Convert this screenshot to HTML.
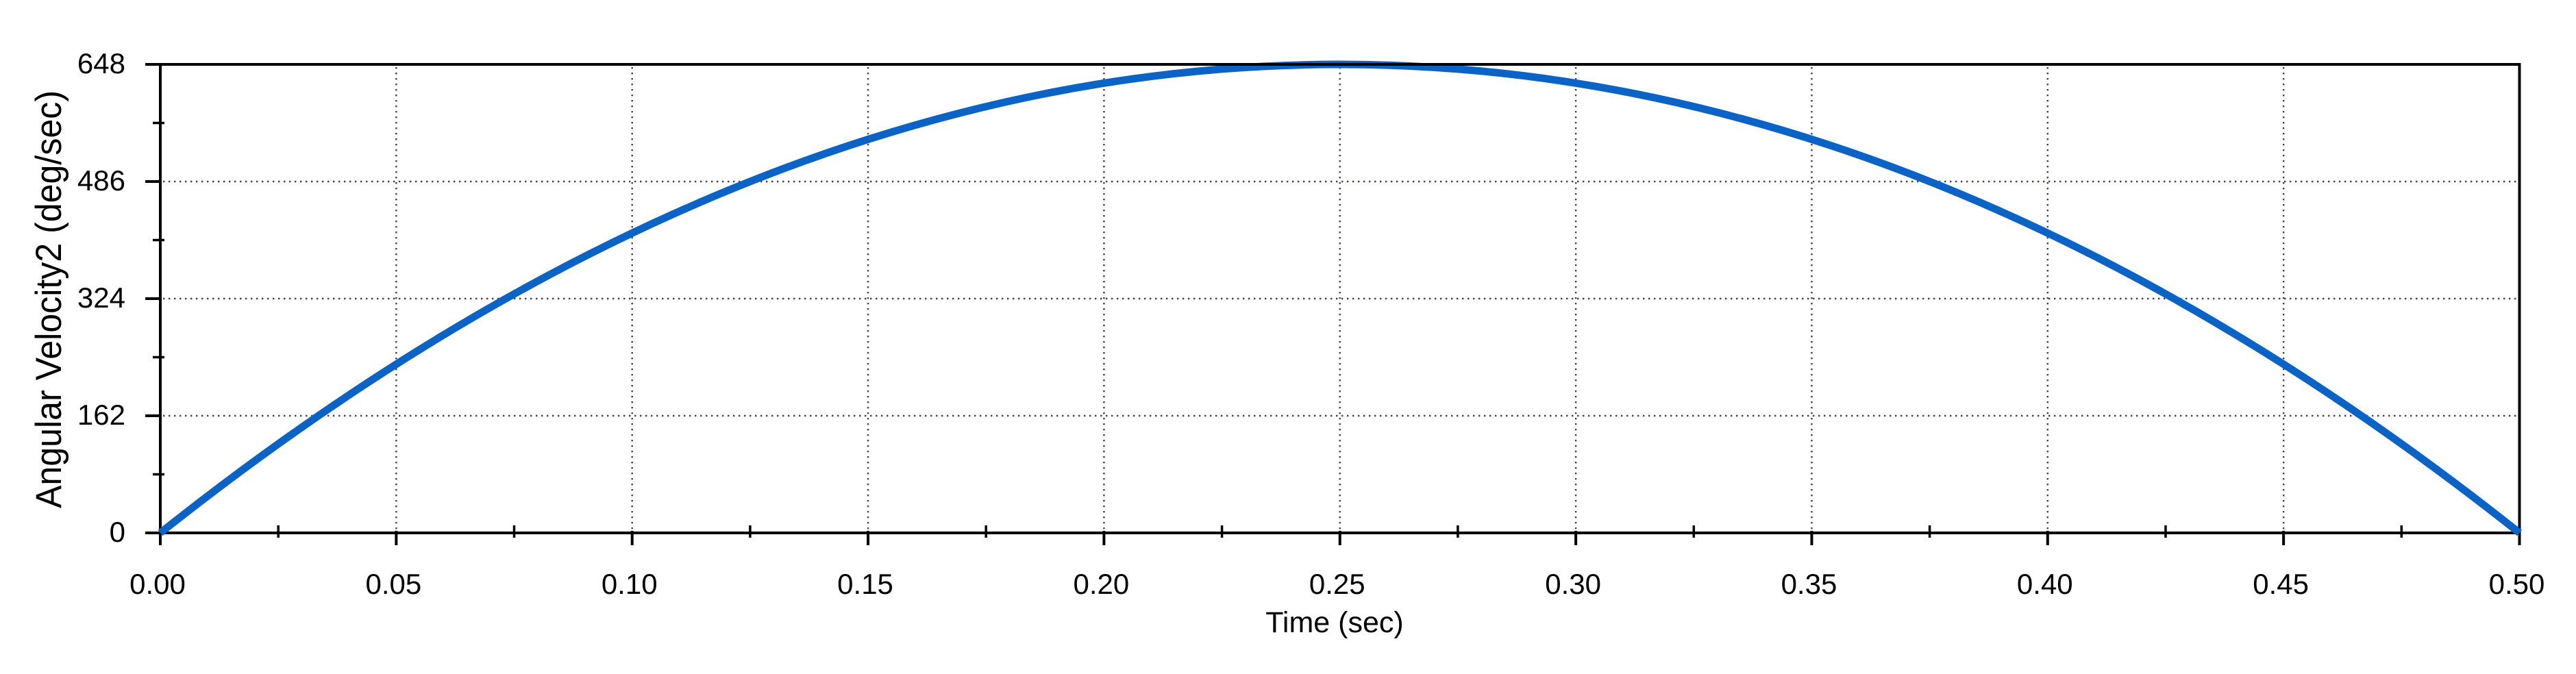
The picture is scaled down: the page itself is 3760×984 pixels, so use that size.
<!DOCTYPE html>
<html>
<head>
<meta charset="utf-8">
<style>
  html, body { margin: 0; padding: 0; background: #ffffff; }
  body { width: 3760px; height: 984px; overflow: hidden; }
  svg { display: block; }
  text { font-family: "Liberation Sans", Arial, sans-serif; fill: #000; }
</style>
</head>
<body>
<svg width="3760" height="984" viewBox="0 0 3760 984" xmlns="http://www.w3.org/2000/svg">
  <rect x="0" y="0" width="3760" height="984" fill="#ffffff"/>

  <!-- grid: vertical dotted -->
  <g stroke="#404052" stroke-width="2.4" stroke-dasharray="2.4 5.6" fill="none">
    <line x1="578.35" y1="98" x2="578.35" y2="776"/>
    <line x1="922.7" y1="98" x2="922.7" y2="776"/>
    <line x1="1267.05" y1="98" x2="1267.05" y2="776"/>
    <line x1="1611.4" y1="98" x2="1611.4" y2="776"/>
    <line x1="1955.75" y1="98" x2="1955.75" y2="776"/>
    <line x1="2300.1" y1="98" x2="2300.1" y2="776"/>
    <line x1="2644.45" y1="98" x2="2644.45" y2="776"/>
    <line x1="2988.8" y1="98" x2="2988.8" y2="776"/>
    <line x1="3333.15" y1="98" x2="3333.15" y2="776"/>
    <!-- horizontal -->
    <line x1="238" y1="265" x2="3675" y2="265"/>
    <line x1="238" y1="436" x2="3675" y2="436"/>
    <line x1="238" y1="607" x2="3675" y2="607"/>
  </g>

  <!-- axes frame -->
  <g stroke="#000" stroke-width="4" fill="none">
    <line x1="234" y1="92" x2="234" y2="796"/>
    <line x1="3677.5" y1="92" x2="3677.5" y2="796"/>
    <line x1="232" y1="778" x2="3679.5" y2="778"/>
  </g>

  <!-- y major ticks -->
  <g stroke="#000" stroke-width="4">
    <line x1="212" y1="94" x2="234" y2="94"/>
    <line x1="212" y1="265" x2="234" y2="265"/>
    <line x1="212" y1="436" x2="234" y2="436"/>
    <line x1="212" y1="607" x2="234" y2="607"/>
    <line x1="212" y1="778" x2="234" y2="778"/>
  </g>
  <!-- y minor ticks -->
  <g stroke="#000" stroke-width="3.5">
    <line x1="223" y1="179.5" x2="240" y2="179.5"/>
    <line x1="223" y1="350.5" x2="240" y2="350.5"/>
    <line x1="223" y1="521.5" x2="240" y2="521.5"/>
    <line x1="223" y1="692.5" x2="240" y2="692.5"/>
  </g>

  <!-- x major ticks -->
  <g stroke="#000" stroke-width="4">
    <line x1="578.35" y1="775" x2="578.35" y2="796"/>
    <line x1="922.7" y1="775" x2="922.7" y2="796"/>
    <line x1="1267.05" y1="775" x2="1267.05" y2="796"/>
    <line x1="1611.4" y1="775" x2="1611.4" y2="796"/>
    <line x1="1955.75" y1="775" x2="1955.75" y2="796"/>
    <line x1="2300.1" y1="775" x2="2300.1" y2="796"/>
    <line x1="2644.45" y1="775" x2="2644.45" y2="796"/>
    <line x1="2988.8" y1="775" x2="2988.8" y2="796"/>
    <line x1="3333.15" y1="775" x2="3333.15" y2="796"/>
  </g>
  <!-- x minor ticks -->
  <g stroke="#000" stroke-width="3.5">
    <line x1="406.2" y1="767" x2="406.2" y2="785"/>
    <line x1="750.5" y1="767" x2="750.5" y2="785"/>
    <line x1="1094.9" y1="767" x2="1094.9" y2="785"/>
    <line x1="1439.2" y1="767" x2="1439.2" y2="785"/>
    <line x1="1783.6" y1="767" x2="1783.6" y2="785"/>
    <line x1="2127.9" y1="767" x2="2127.9" y2="785"/>
    <line x1="2472.3" y1="767" x2="2472.3" y2="785"/>
    <line x1="2816.6" y1="767" x2="2816.6" y2="785"/>
    <line x1="3161.0" y1="767" x2="3161.0" y2="785"/>
    <line x1="3505.3" y1="767" x2="3505.3" y2="785"/>
  </g>

  <!-- data curve (parabola) -->
  <path d="M234,778 Q1955.75,-590 3677.5,778" fill="none" stroke="#0b63c6" stroke-width="11" stroke-linecap="butt"/>

  <!-- top border over the curve -->
  <line x1="232" y1="94" x2="3679.5" y2="94" stroke="#000" stroke-width="4"/>

  <!-- y tick labels -->
  <g font-size="42" text-anchor="end">
    <text x="183" y="107">648</text>
    <text x="183" y="278">486</text>
    <text x="183" y="449">324</text>
    <text x="183" y="620">162</text>
    <text x="183" y="791">0</text>
  </g>

  <!-- x tick labels -->
  <g font-size="42" text-anchor="middle">
    <text x="230" y="867">0.00</text>
    <text x="574.35" y="867">0.05</text>
    <text x="918.7" y="867">0.10</text>
    <text x="1263.05" y="867">0.15</text>
    <text x="1607.4" y="867">0.20</text>
    <text x="1951.75" y="867">0.25</text>
    <text x="2296.1" y="867">0.30</text>
    <text x="2640.45" y="867">0.35</text>
    <text x="2984.8" y="867">0.40</text>
    <text x="3329.15" y="867">0.45</text>
    <text x="3673.5" y="867">0.50</text>
  </g>

  <!-- axis titles -->
  <text x="1948" y="923" font-size="43" text-anchor="middle">Time (sec)</text>
  <text transform="translate(89,437) rotate(-90)" font-size="53" text-anchor="middle" textLength="610" lengthAdjust="spacingAndGlyphs">Angular Velocity2 (deg/sec)</text>
</svg>
</body>
</html>
